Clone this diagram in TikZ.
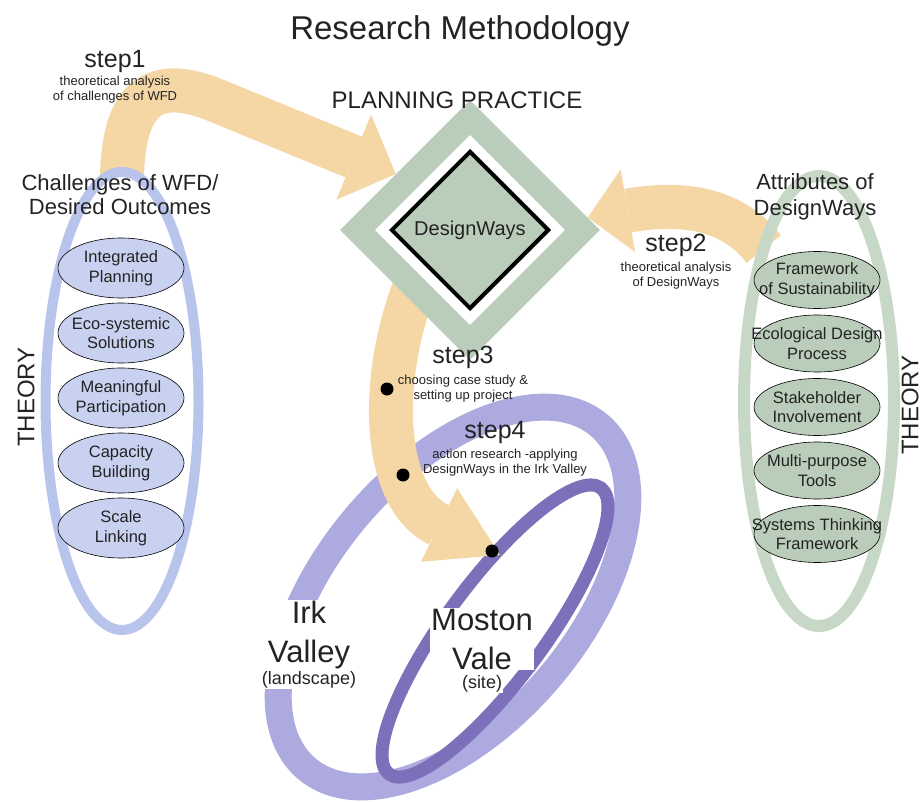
\documentclass[tikz,border=0pt]{standalone}
\usepackage{fontspec}
\setmainfont{Liberation Sans}
\usetikzlibrary{shapes.geometric,positioning,calc,backgrounds}

\definecolor{bandtan}{RGB}{245,215,166}
\definecolor{sage}{RGB}{186,205,186}
\definecolor{sageframe}{RGB}{200,216,198}
\definecolor{bluframe}{RGB}{184,196,236}
\definecolor{blufill}{RGB}{201,209,240}
\definecolor{landlav}{RGB}{172,170,222}
\definecolor{sitelav}{RGB}{124,112,186}
\definecolor{ink}{RGB}{35,35,35}

\begin{document}
\begin{tikzpicture}[x=1pt,y=-1pt,
	every node/.append style={text=ink},
	frame/.style={ellipse, inner sep=0pt, outer sep=0pt},
	ring/.style={ellipse, inner sep=0pt, outer sep=0pt},
	goal/.style={ellipse, draw, line width=0.6pt, fill=blufill, minimum width=126pt, minimum height=60pt, inner sep=0pt},
	attr/.style={goal, fill=sage, minimum height=57pt},
	goaltext/.style={align=center, inner sep=0pt, font=\fontsize{16.5}{19.5}\selectfont},
	band/.style={draw=bandtan, line width=44pt},
	theory/.style={rotate=90, inner sep=0pt, font=\fontsize{24}{28}\selectfont},
	heading/.style={align=center, inner sep=0pt, font=\fontsize{22}{24}\selectfont},
	steplbl/.style={inner sep=0pt, font=\fontsize{25}{28}\selectfont},
	stepnote/.style={align=center, inner sep=0pt, font=\fontsize{13}{15}\selectfont},
	dot/.style={circle, fill=black, minimum size=13pt, inner sep=0pt},
	place/.style={align=center, fill=white, inner sep=1pt, font=\fontsize{31}{39}\selectfont},
	placesub/.style={fill=white, inner sep=1pt, font=\fontsize{18}{20}\selectfont}
	]
	\useasboundingbox (0,0) rectangle (923,802);
	
	% theory frames
	\node[frame, draw=bluframe, line width=10pt, minimum width=153pt, minimum height=458pt] (wfd) at (122,401) {};
	\node[frame, draw=sageframe, line width=12pt, minimum width=150pt, minimum height=450pt] (attribs) at (819,401) {};
	\foreach \txt [count=\i] in {Integrated\\Planning, Eco-systemic\\Solutions, Meaningful\\Participation, Capacity\\Building, Scale\\Linking}{
		\node[goal] (goal\i) at (121,203+65*\i) {};
		\node[goaltext] (goaltxt\i) at (goal\i) {\txt};
	}
	\foreach \txt [count=\i] in {Framework\\of Sustainability, Ecological Design\\Process, Stakeholder\\Involvement, Multi-purpose\\Tools, Systems Thinking\\Framework}{
		\node[attr] (attr\i) at (817,216.5+63.5*\i) {};
		\node[goaltext] (attrtxt\i) at (attr\i) {\txt};
	}
	
	% planning practice
	\node[diamond, fill=sage, minimum width=260pt, minimum height=260pt, inner sep=0pt] (practice) at (470,230) {};
	\node[diamond, fill=white, minimum width=190pt, minimum height=190pt, inner sep=0pt] (gap) at (practice) {};
	\node[diamond, draw=black, line width=4pt, fill=sage, minimum width=158pt, minimum height=158pt, inner sep=0pt, font=\fontsize{20}{24}\selectfont] (dways) at (practice) {DesignWays};
	
	\coordinate (b1) at ($(practice.143)+(-42,-17)$);
	\coordinate (b2) at ($(practice.6)+(40,-7)$);
	\coordinate (tip3) at (500,555);
	\coordinate (b3) at ($(tip3)+(-61,-30)$);
	
	\begin{scope}[on background layer]
		% landscape and site
		\node[ring, draw=landlav, line width=27pt, minimum width=451pt, minimum height=251pt, rotate=49.5] (irk) at (453,597) {};
		\node[ring, draw=sitelav, line width=13pt, minimum width=356pt, minimum height=98pt, rotate=53.5] (moston) at (495,631) {};
		% steps
		\draw[band] ([yshift=-4pt]wfd.north) .. controls (124,90) and (160,78) .. (215,100) -- (b1);
		\draw[band] (attribs.110) .. controls (735,212) and (690,200) .. (b2);
		\draw[band] ($(practice.center)+(-48,40)$) .. controls (380,360) and (376,494) .. (b3);
	\end{scope}
	
	\fill[bandtan] (practice.143) -- ($(b1)!46pt!90:(practice.143)$) -- ($(b1)!46pt!-90:(practice.143)$) -- cycle;
	\fill[bandtan] (practice.6) -- ($(b2)!42pt!90:(practice.6)$) -- ($(b2)!42pt!-90:(practice.6)$) -- cycle;
	\fill[bandtan] (tip3) -- ($(b3)!41pt!90:(tip3)$) -- ($(b3)!41pt!-90:(tip3)$) -- cycle;
	
	\node[dot] (stop1) at (387,389) {};
	\node[dot] (stop2) at (403,475) {};
	\node[dot] (stop3) at (492,551) {};
	
	% texts
	\node[inner sep=0pt, font=\fontsize{33}{38}\selectfont] (title) at (460,31) {Research Methodology};
	\node[inner sep=0pt, font=\fontsize{24}{28}\selectfont] (practicehead) at (457,100) {PLANNING PRACTICE};
	\node[heading] (wfdhead) at (120,195) {Challenges of WFD/\\Desired Outcomes};
	\node[heading, font=\fontsize{22}{26}\selectfont] (attrhead) at (815,197) {Attributes of\\DesignWays};
	\node[theory] (theoryL) at (26,397) {THEORY};
	\node[theory] (theoryR) at (910,405) {THEORY};
	
	\node[steplbl] (s1) at (115,61) {step1};
	\node[stepnote, below=3pt of s1] (s1note) {theoretical analysis\\of challenges of WFD};
	\node[steplbl] (s2) at (676,245) {step2};
	\node[stepnote, below=5pt of s2] (s2note) {theoretical analysis\\of DesignWays};
	\node[steplbl] (s3) at (463,357) {step3};
	\node[stepnote, below=6pt of s3] (s3note) {choosing case study \&\\setting up project};
	\node[steplbl] (s4) at (495,432) {step4};
	\node[stepnote, below=5pt of s4, xshift=10pt] (s4note) {action research -applying\\DesignWays in the Irk Valley};
	
	\node[place] (irkname) at (309,635) {Irk\\Valley};
	\node[placesub, below=0pt of irkname] (irksub) {(landscape)};
	\node[place] (mostonname) at (482,639) {Moston\\Vale};
	\node[placesub, below=4pt of mostonname] (mostonsub) {(site)};
\end{tikzpicture}
\end{document}
